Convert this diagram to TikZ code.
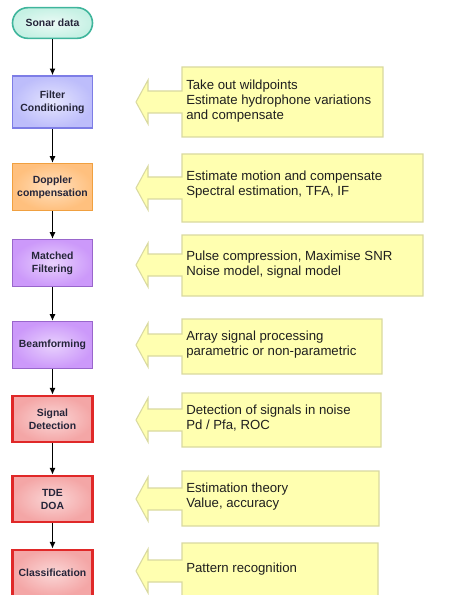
\documentclass[tikz,border=0pt]{standalone}
\usepackage{fontspec}
\setmainfont{Liberation Sans}
\usetikzlibrary{arrows.meta,positioning,shapes}

\definecolor{sonarfill}{HTML}{C6F1E4}
\definecolor{sonarline}{HTML}{3FB59C}
\definecolor{filterfill}{HTML}{BDBDFB}
\definecolor{filterline}{HTML}{7D7DE6}
\definecolor{dopfill}{HTML}{FFC07E}
\definecolor{dopline}{HTML}{F0A040}
\definecolor{purfill}{HTML}{CC99FA}
\definecolor{purline}{HTML}{9966CC}
\definecolor{redfill}{HTML}{F4A6A6}
\definecolor{redline}{HTML}{E02828}
\definecolor{notefill}{HTML}{FFFFB0}
\definecolor{noteline}{HTML}{D9D9A0}
\definecolor{labeltext}{HTML}{25253A}

\tikzset{
  stage/.style={draw,line width=1.2pt,minimum width=60pt,minimum height=35pt,align=center,
    text=labeltext,font=\fontsize{7.8}{9.8}\selectfont\bfseries,inner sep=1pt},
  flow/.style={-{Latex[length=5pt,width=4.5pt]},line width=0.8pt},
  notebox/.style={draw=noteline,fill=notefill,line width=0.8pt},
  notetext/.style={anchor=north west,inner sep=0pt,align=left,text=black!88,
    font=\fontsize{9.9}{11.25}\selectfont}
}

% yellow note with a left-pointing arrow: top, bottom, right edge, arrow centre
\newcommand{\notecallout}[4]{%
  \draw[notebox] (182,#1) -- (#3,#1) -- (#3,#2) -- (182,#2) -- (182,#4+11)
    -- (148,#4+11) -- (148,#4+22) -- (136,#4) -- (148,#4-22) -- (148,#4-11)
    -- (182,#4-11) -- cycle;}

\begin{document}
\begin{tikzpicture}[x=0.75pt,y=-0.75pt]
  \useasboundingbox (0,0) rectangle (459,595);
  \clip (0,0) rectangle (459,595);

  % processing chain
  \node[stage,draw=sonarline,inner color=sonarfill!35!white,outer color=sonarfill,
    rounded corners=11.5pt,minimum height=23pt] (sonar) at (52.5,23) {Sonar data};
  \node[stage,draw=filterline,inner color=filterfill!40!white,outer color=filterfill,
    minimum height=39pt] (filter) at (52.5,102) {Filter\\Conditioning};
  \node[stage,draw=dopline,inner color=dopfill!50!white,outer color=dopfill] (doppler) at (52.5,187) {Doppler\\compensation};
  \node[stage,draw=purline,inner color=purfill!45!white,outer color=purfill] (matched) at (52.5,263) {Matched\\Filtering};
  \node[stage,draw=purline,inner color=purfill!45!white,outer color=purfill] (beam) at (52.5,345) {Beamforming};
  \node[stage,draw=redline,line width=1.6pt,inner color=redfill!45!white,outer color=redfill] (detect) at (52.5,419) {Signal\\Detection};
  \node[stage,draw=redline,line width=1.6pt,inner color=redfill!45!white,outer color=redfill] (tde) at (52.5,499) {TDE\\DOA};
  \node[stage,draw=redline,line width=1.6pt,inner color=redfill!45!white,outer color=redfill] (classif) at (52.5,573) {Classification};

  \draw[flow] (sonar) -- (filter);
  \draw[flow] (filter) -- (doppler);
  \draw[flow] (doppler) -- (matched);
  \draw[flow] (matched) -- (beam);
  \draw[flow] (beam) -- (detect);
  \draw[flow] (detect) -- (tde);
  \draw[flow] (tde) -- (classif);

  % notes
  \notecallout{67}{137}{383}{102}
  \node[notetext] (filternote) at (186,80) {Take out wildpoints\\Estimate hydrophone variations\\and compensate};
  \notecallout{154}{222}{423}{188}
  \node[notetext] (dopnote) at (186,171) {Estimate motion and compensate\\Spectral estimation, TFA, IF};
  \notecallout{235}{296}{423}{265}
  \node[notetext] (matchednote) at (186,251) {Pulse compression, Maximise SNR\\Noise model, signal model};
  \notecallout{319}{374}{382}{345}
  \node[notetext] (beamnote) at (186,331) {Array signal processing\\parametric or non-parametric};
  \notecallout{393}{447}{381}{420}
  \node[notetext] (detectnote) at (186,405) {Detection of signals in noise\\Pd / Pfa, ROC};
  \notecallout{471}{526}{379}{499}
  \node[notetext] (tdenote) at (186,483) {Estimation theory\\Value, accuracy};
  \notecallout{543}{600}{378}{571}
  \node[notetext] (classifnote) at (186,563) {Pattern recognition};
\end{tikzpicture}
\end{document}
